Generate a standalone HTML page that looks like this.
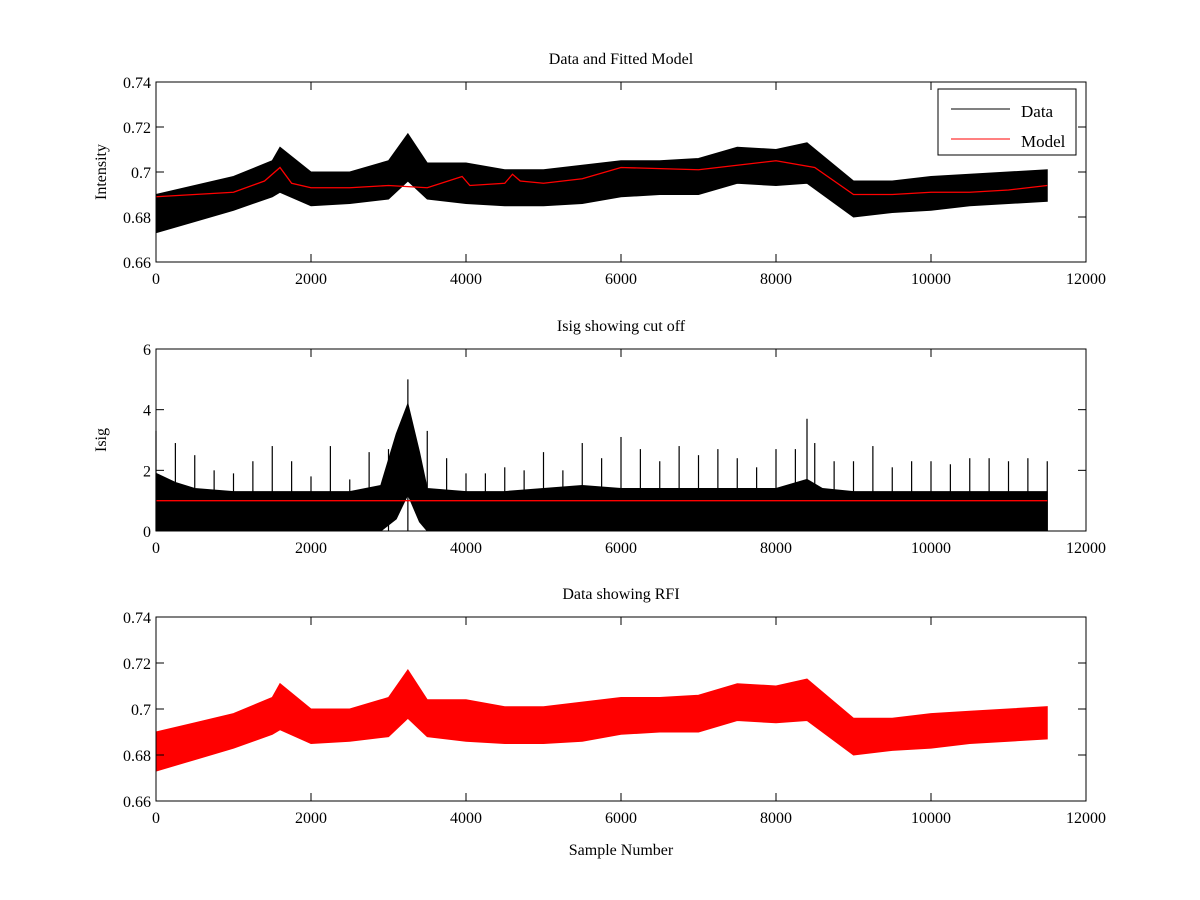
<!DOCTYPE html>
<html><head><meta charset="utf-8"><style>
html,body{margin:0;padding:0;background:#fff;}
svg{display:block;font-family:"Liberation Serif",serif;}
</style></head><body>
<svg id="fig" width="1200" height="900"></svg>
<script>
const xs=[0,500,1000,1500,1600,2000,2500,3000,3250,3500,4000,4500,5000,5500,6000,6500,7000,7500,8000,8400,9000,9500,10000,10500,11000,11500];
const dataLo=[.673,.678,.683,.689,.691,.685,.686,.688,.696,.688,.686,.685,.685,.686,.689,.690,.690,.695,.694,.695,.680,.682,.683,.685,.686,.687];
const dataHi=[.690,.694,.698,.705,.711,.700,.700,.705,.717,.704,.704,.701,.701,.703,.705,.705,.706,.711,.710,.713,.696,.696,.698,.699,.700,.701];
const modelX=[0,500,1000,1400,1600,1750,2000,2500,3000,3500,3950,4050,4500,4600,4700,5000,5500,6000,7000,8000,8500,9000,9500,10000,10500,11000,11500];
const modelY=[.689,.690,.691,.696,.702,.695,.693,.693,.694,.693,.698,.694,.695,.699,.696,.695,.697,.702,.701,.705,.702,.690,.690,.691,.691,.692,.694];
const isigX=[0,250,500,1000,1500,2000,2500,2900,3100,3250,3400,3500,4000,4500,5000,5500,6000,6500,7000,7500,8000,8400,8600,9000,10000,11000,11500];
const isigHi=[1.9,1.6,1.4,1.3,1.3,1.3,1.3,1.5,3.2,4.2,2.6,1.4,1.3,1.3,1.4,1.5,1.4,1.4,1.4,1.4,1.4,1.7,1.4,1.3,1.3,1.3,1.3];
const isigLo=[0,0,0,0,0,0,0,0,0.4,1.2,0.3,0,0,0,0,0,0,0,0,0,0,0,0,0,0,0,0];
const spikeX=[0,250,500,750,1000,1250,1500,1750,2000,2250,2500,2750,3000,3250,3500,3750,4000,4250,4500,4750,5000,5250,5500,5750,6000,6250,6500,6750,7000,7250,7500,7750,8000,8250,8400,8500,8750,9000,9250,9500,9750,10000,10250,10500,10750,11000,11250,11500];
const spikeY=[3.3,2.9,2.5,2.0,1.9,2.3,2.8,2.3,1.8,2.8,1.7,2.6,2.7,5.0,3.3,2.4,1.9,1.9,2.1,2.0,2.6,2.0,2.9,2.4,3.1,2.7,2.3,2.8,2.5,2.7,2.4,2.1,2.7,2.7,3.7,2.9,2.3,2.3,2.8,2.1,2.3,2.3,2.2,2.4,2.4,2.3,2.4,2.3];
const cutoff=1.0;
const xTicks=[0,2000,4000,6000,8000,10000,12000];
const intTicks=[0.66,0.68,0.7,0.72,0.74];
const intLabels=["0.66","0.68","0.7","0.72","0.74"];
const isigTicks=[0,2,4,6];

const NS="http://www.w3.org/2000/svg";
const svg=document.getElementById('fig');
function el(t,a,p){const e=document.createElementNS(NS,t);for(const k in a)e.setAttribute(k,a[k]);(p||svg).appendChild(e);return e;}
const X0=156,X1=1086;
const sx=v=>X0+v/12000*(X1-X0);
function panel(top,bot,ymin,ymax,ticks,labels,title,ylabel,name){
  const g=el('g',{});
  
  
  const sy=v=>bot-(v-ymin)/(ymax-ymin)*(bot-top);
  return {g,sy,top,bot,ticks,labels,title,ylabel,name};
}
function axes(P){
  const {g,sy,top,bot}=P;
  const fr=el('rect',{x:X0,y:top,width:X1-X0,height:bot-top,fill:'none',stroke:'#000','stroke-width':1},g);
  
  xTicks.forEach(t=>{const x=sx(t);
    el('line',{x1:x,x2:x,y1:bot,y2:bot-8,stroke:'#000'},g);el('line',{x1:x,x2:x,y1:top,y2:top+8,stroke:'#000'},g);
    const tx=el('text',{x:x,y:bot+22,'text-anchor':'middle','font-size':16},g);tx.textContent=t;
    });
  P.ticks.forEach((t,i)=>{const y=sy(t);
    el('line',{x1:X0,x2:X0+8,y1:y,y2:y,stroke:'#000'},g);el('line',{x1:X1,x2:X1-8,y1:y,y2:y,stroke:'#000'},g);
    const tx=el('text',{x:X0-5,y:y+6,'text-anchor':'end','font-size':16},g);tx.textContent=P.labels[i];
    });
  const tt=el('text',{x:(X0+X1)/2,y:top-18,'text-anchor':'middle','font-size':16},g);tt.textContent=P.title;
  
  if(P.ylabel){const yl=el('text',{x:0,y:0,'text-anchor':'middle','font-size':16,transform:`translate(106,${(top+bot)/2}) rotate(-90)`},g);yl.textContent=P.ylabel;
    }
}
function band(P,xa,lo,hi,color,name){
  let pts=xa.map((x,i)=>sx(x)+','+P.sy(hi[i]));
  for(let i=xa.length-1;i>=0;i--)pts.push(sx(xa[i])+','+P.sy(lo[i]));
  const p=el('polygon',{points:pts.join(' '),fill:color,stroke:color,'stroke-width':1},P.g);
  
}
function line(P,xa,ya,color,name){
  const p=el('polyline',{points:xa.map((x,i)=>sx(x)+','+P.sy(ya[i])).join(' '),fill:'none',stroke:color,'stroke-width':1.3},P.g);
  
}
// top
const P1=panel(82,262,0.66,0.74,intTicks,intLabels,'Data and Fitted Model','Intensity','top-panel');
band(P1,xs,dataLo,dataHi,'#000','data-series');
line(P1,modelX,modelY,'#f00','model-series');
axes(P1);
const lg=el('g',{},P1.g);
el('rect',{x:938,y:89,width:138,height:66,fill:'#fff',stroke:'#000'},lg);
el('line',{x1:951,x2:1010,y1:109,y2:109,stroke:'#000'},lg);
el('line',{x1:951,x2:1010,y1:139,y2:139,stroke:'#f00'},lg);
let t=el('text',{x:1021,y:117,'font-size':17},lg);t.textContent='Data';
t=el('text',{x:1021,y:147,'font-size':17},lg);t.textContent='Model';
// middle
const P2=panel(349,531,0,6,isigTicks,isigTicks.map(String),'Isig showing cut off','Isig','middle-panel');
band(P2,isigX,isigLo,isigHi,'#000','isig-series');
spikeX.forEach((x,i)=>{
  const s=el('line',{x1:sx(x),x2:sx(x),y1:P2.sy(0),y2:P2.sy(spikeY[i]),stroke:'#000','stroke-width':1.2},P2.g);
  
  
});
line(P2,[0,11500],[cutoff,cutoff],'#f00','cutoff-line');
axes(P2);
// bottom
const P3=panel(617,801,0.66,0.74,intTicks,intLabels,'Data showing RFI','','bottom-panel');
band(P3,xs,dataLo,dataHi,'#f00','rfi-series');
axes(P3);
const xl=el('text',{x:(X0+X1)/2,y:855,'text-anchor':'middle','font-size':16});xl.textContent='Sample Number';

</script>
</body></html>
